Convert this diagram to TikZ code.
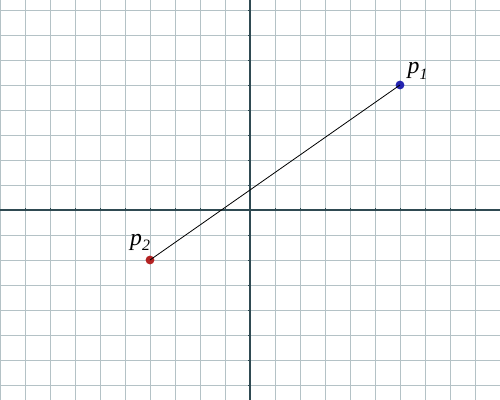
\documentclass[tikz,border=0pt]{standalone}
\usepackage{fontspec}
\setmainfont{Liberation Serif}
\definecolor{gridc}{HTML}{B4C2C6}
\definecolor{axisc}{HTML}{2F4A52}
\definecolor{ptblue}{HTML}{2424B0}
\definecolor{ptred}{HTML}{B42222}
\begin{document}
\begin{tikzpicture}[
  gridline/.style={draw=gridc, line width=1.1pt},
  axisline/.style={draw=axisc, line width=1.5pt},
  seg/.style={draw=black, line width=0.9pt},
  dot/.style={circle, inner sep=0pt, minimum size=10pt},
  lbl/.style={anchor=base west, inner sep=0pt, font=\fontsize{27}{30}\selectfont\itshape}
]
\useasboundingbox (-10,-7.6) rectangle (10,8.4);
\fill[white] (-10,-7.6) rectangle (10,8.4);
% grid
\foreach \x in {-10,...,10} \draw[gridline] (\x,-7.6) -- (\x,8.4);
\foreach \y in {-7,...,8} \draw[gridline] (-10,\y) -- (10,\y);
% axes
\draw[axisline] (-10,0) -- (10,0);
\draw[axisline] (0,-7.6) -- (0,8.4);
\foreach \x in {-9,...,9} \draw[axisc, line width=1.1pt] (\x,-0.06) -- (\x,0.06);
\foreach \y in {-7,...,8} \draw[axisc, line width=1.1pt] (-0.06,\y) -- (0.06,\y);
% points
\node[dot, fill=ptblue] (p1) at (6,5) {};
\node[dot, fill=ptred] (p2) at (-4,-2) {};
\draw[seg] (p1.center) -- (p2.center);
\node[lbl] (l1) at (6.3,5.44) {p\raisebox{-0.22em}{\fontsize{18}{20}\selectfont 1}};
\node[lbl] (l2) at (-4.8,-1.42) {p\raisebox{-0.22em}{\fontsize{18}{20}\selectfont 2}};
\end{tikzpicture}
\end{document}
